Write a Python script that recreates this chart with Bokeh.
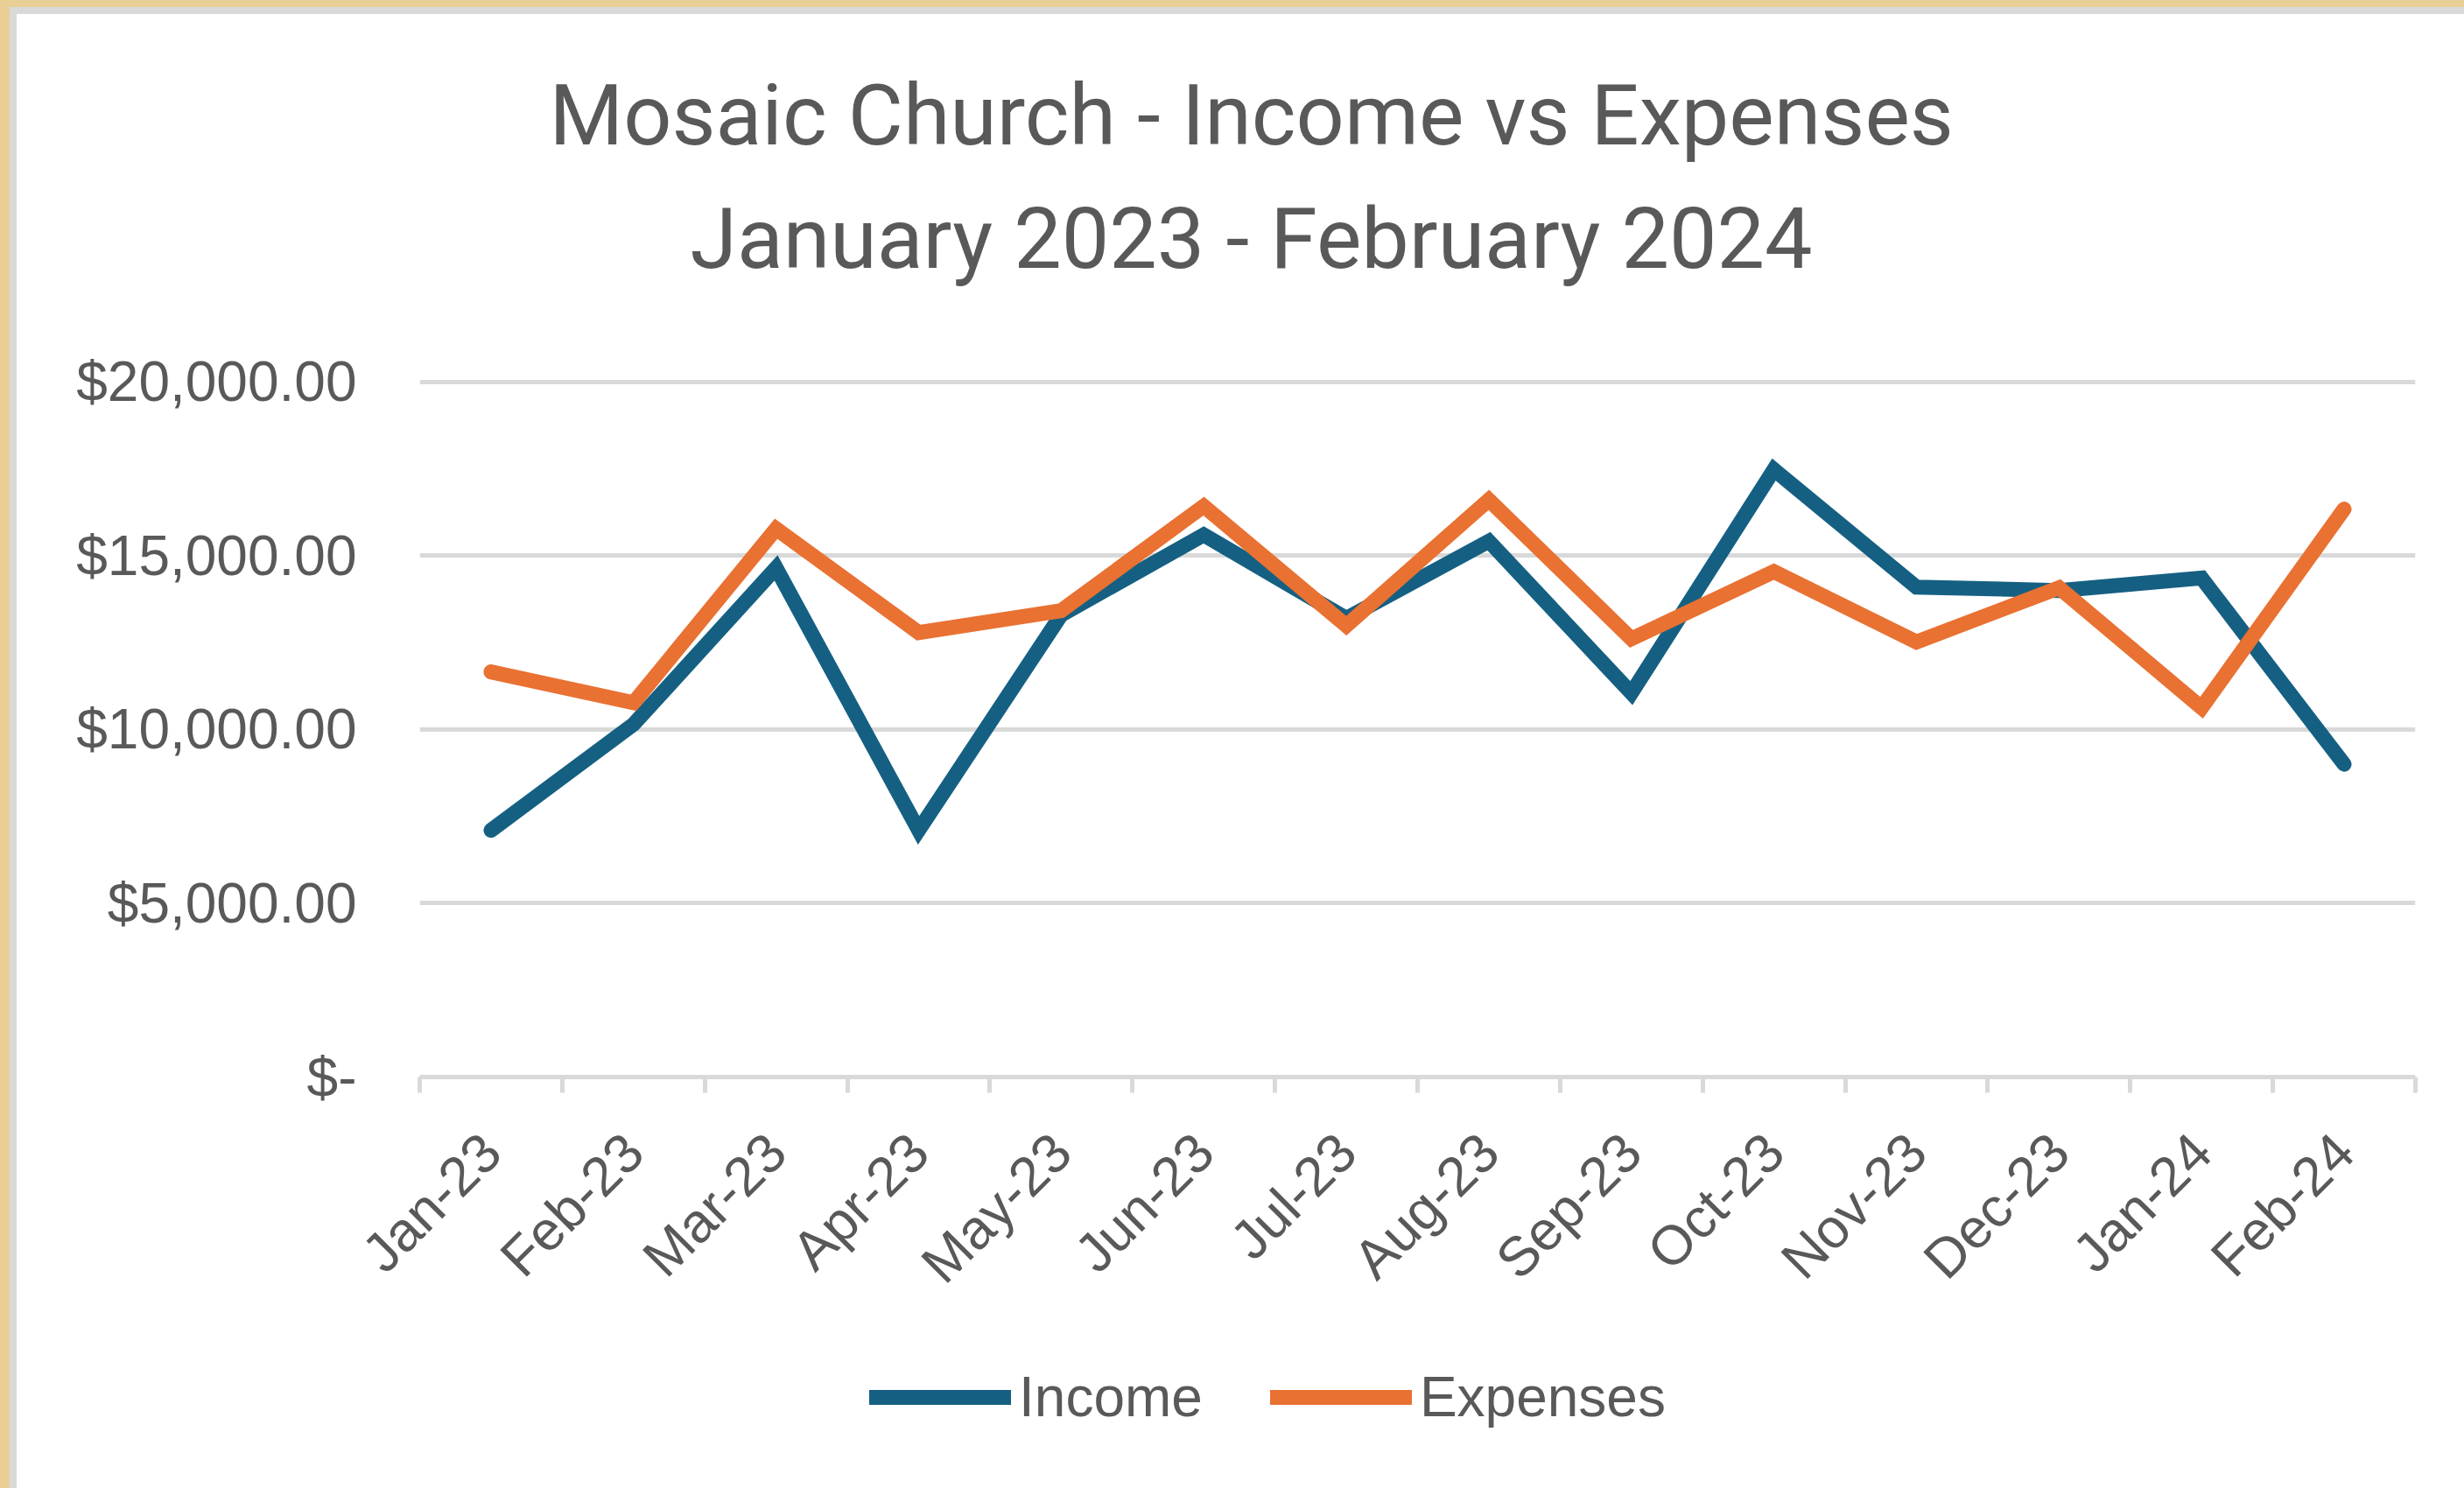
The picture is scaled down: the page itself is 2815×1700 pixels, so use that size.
import math
from bokeh.plotting import figure
from bokeh.models import (Range1d, FixedTicker, NumeralTickFormatter, Legend,
                          LegendItem, Title, ColumnDataSource)
from bokeh.layouts import column
from bokeh.embed import file_html
from bokeh.resources import INLINE

# ---------------- data ----------------
months = ["Jan-23", "Feb-23", "Mar-23", "Apr-23", "May-23", "Jun-23", "Jul-23",
          "Aug-23", "Sep-23", "Oct-23", "Nov-23", "Dec-23", "Jan-24", "Feb-24"]
income = [7100, 10150, 14650, 7100, 13300, 15600, 13200,
          15420, 11050, 17480, 14100, 14000, 14360, 9000]
expenses = [11660, 10770, 15780, 12790, 13420, 16430, 12990,
            16610, 12610, 14545, 12520, 14080, 10630, 16345]
y_ticks = [0, 5000, 10000, 15000, 20000]
title_lines = ["Mosaic Church - Income vs Expenses", "January 2023 - February 2024"]
series_names = ["Income", "Expenses"]

# ---------------- style ----------------
C_INC = "#156082"
C_EXP = "#E97132"
C_TXT = "#595959"
C_GRID = "#D9D9D9"
TICK_FONT = "Liberation Sans"
W = 2796
H_MAIN = 1494
H_LEG = 190

src = ColumnDataSource(dict(x=list(range(len(months))), income=income, expenses=expenses))

# a little headroom above the top gridline so it is not clipped by the frame edge
p = figure(width=W, height=H_MAIN, title=None,
           x_range=Range1d(-0.5, len(months) - 0.5), y_range=Range1d(0, 20100),
           output_backend="svg", toolbar_location=None,
           min_border_left=460, min_border_right=56,
           min_border_top=416, min_border_bottom=H_MAIN - 1214,
           outline_line_color=None, background_fill_color="white",
           border_fill_color="white")

# y axis
yt = FixedTicker(ticks=y_ticks)
p.yaxis.ticker = yt
p.ygrid.ticker = yt
p.yaxis.formatter = NumeralTickFormatter(format="$0,0.00")
p.yaxis.major_label_overrides = {0: "$-"}
p.yaxis.axis_line_color = None
p.yaxis.major_tick_line_color = None
p.yaxis.minor_tick_line_color = None
p.yaxis.major_label_standoff = 66
p.yaxis.major_label_text_font = TICK_FONT
p.yaxis.major_label_text_font_size = "64px"
p.yaxis.major_label_text_color = C_TXT
p.ygrid.grid_line_color = C_GRID
p.ygrid.grid_line_width = 5
p.xgrid.grid_line_color = None

# x axis
xt = FixedTicker(ticks=list(range(len(months))),
                 minor_ticks=[i - 0.5 for i in range(len(months) + 1)])
p.xaxis.ticker = xt
p.xaxis.major_label_overrides = {i: m for i, m in enumerate(months)}
p.xaxis.major_tick_in = 0
p.xaxis.major_tick_out = 0
p.xaxis.minor_tick_in = 0
p.xaxis.minor_tick_out = 18
p.xaxis.minor_tick_line_color = C_GRID
p.xaxis.minor_tick_line_width = 5
p.xaxis.axis_line_color = C_GRID
p.xaxis.axis_line_width = 5
p.xaxis.major_label_orientation = math.pi / 4
p.xaxis.major_label_standoff = 57
p.xaxis.major_label_text_font = TICK_FONT
p.xaxis.major_label_text_font_size = "63px"
p.xaxis.major_label_text_color = C_TXT

# lines
line_kw = dict(line_width=17, line_join="miter", line_cap="round")
p.line(x="x", y="income", source=src, line_color=C_INC, **line_kw)
p.line(x="x", y="expenses", source=src, line_color=C_EXP, **line_kw)

# titles (above panel stacks outward from the frame): spacer, second line, first line
p.add_layout(Title(text="\u00a0", text_font_size="1px", standoff=100), "above")
for txt, off, so in [(title_lines[1], 309, 0), (title_lines[0], 148, 50)]:
    p.add_layout(Title(text=txt, align="left", offset=off, text_font="Roboto",
                       text_font_size="97px", text_font_style="normal",
                       text_color=C_TXT, standoff=so), "above")

# legend strip (a second figure sharing the same data; its frame shows only the legend)
lg = figure(width=W, height=H_LEG, title=None, x_range=Range1d(100, 101),
            y_range=Range1d(100, 101), output_backend="svg", toolbar_location=None,
            min_border=0, outline_line_color=None, border_fill_color="white",
            background_fill_color="white")
lg.axis.visible = False
lg.grid.visible = False
l_inc = lg.line(x="x", y="income", source=src, line_color=C_INC, **line_kw)
l_exp = lg.line(x="x", y="expenses", source=src, line_color=C_EXP, **line_kw)
legend = Legend(items=[LegendItem(label=series_names[0], renderers=[l_inc]),
                       LegendItem(label=series_names[1], renderers=[l_exp])],
                orientation="horizontal", location=(514, 67),
                glyph_width=162, glyph_height=18, label_standoff=9, spacing=77,
                padding=0, margin=0, border_line_color=None,
                background_fill_alpha=0, label_text_font=TICK_FONT,
                label_text_font_size="64px", label_text_color=C_TXT)
lg.add_layout(legend)

inner = column(p, lg, spacing=0, styles={"background-color": "white"})
mid = column(inner, styles={"background-color": C_GRID, "padding-left": "8px",
                            "padding-top": "8px"})
outer = column(mid, styles={"background-color": "#E9CF95", "padding-left": "11px",
                            "padding-top": "8px"})

open("out.html", "w").write(file_html(outer, INLINE))
